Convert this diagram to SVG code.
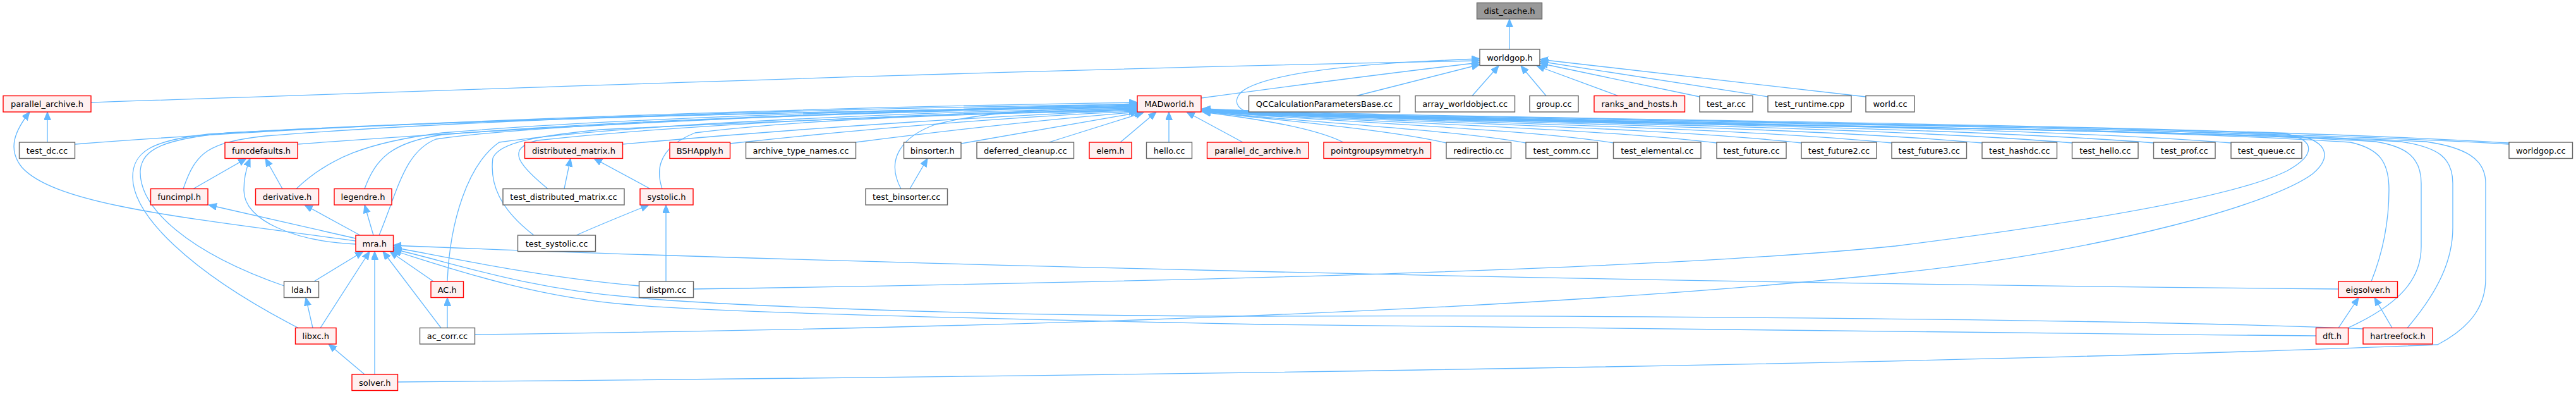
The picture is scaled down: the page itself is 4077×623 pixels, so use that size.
<svg xmlns="http://www.w3.org/2000/svg" width="4077" height="623" viewBox="0 0 4077 623">
<style>
rect{stroke-width:1.4}
.n rect{fill:#ffffff;stroke:#666666}
.r rect{fill:#fff0f0;stroke:#ff0000}
.root rect{fill:#999999;stroke:#666666}
text{font-family:"DejaVu Sans",sans-serif;font-size:13px;text-anchor:middle;fill:#000}
#edges path{fill:none;stroke:#63b8ff;stroke-width:1.3;marker-end:url(#a)}
</style>
<defs>
<marker id="a" markerUnits="userSpaceOnUse" markerWidth="14" markerHeight="12" refX="13" refY="5.5" orient="auto"><path d="M0,0 L13,5.5 L0,11 z" fill="#63b8ff" stroke="#63b8ff" stroke-width="1"/></marker>
</defs>
<rect width="4077" height="623" fill="#ffffff"/>
<g id="edges">
<path d="M2389,78 L2389,30"/>
<path d="M144,162 C800,140 1600,110 2342,96"/>
<path d="M1901,155 C2050,135 2200,115 2342,99"/>
<path d="M3971,228 C3700,210 2500,184 2000,181 C1955,179 1950,160 1965,145 C2010,110 2200,98 2342,93"/>
<path d="M2147,151.5 L2342,102"/>
<path d="M2330,151.5 L2372,104"/>
<path d="M2447,151.5 L2407,104"/>
<path d="M2561,151.5 L2432,104"/>
<path d="M2690,153 L2437,100"/>
<path d="M2798,153 L2437,97"/>
<path d="M2953,153 L2437,94"/>
<path d="M119,228 C600,190 1400,168 1800,162"/>
<path d="M471,228 C900,195 1500,172 1800,164"/>
<path d="M290,298.5 C310,240 330,225 420,215 C800,185 1400,170 1800,165"/>
<path d="M469,298.5 C520,250 580,225 700,210 C1000,185 1500,172 1800,166"/>
<path d="M577,298.5 C595,250 620,225 700,213 C1000,188 1500,173 1800,167"/>
<path d="M600,372 C630,300 640,240 690,220 C900,190 1500,175 1800,168"/>
<path d="M449.6,452 C300,400 220,330 222,270 C225,235 260,220 360,210 C800,185 1500,172 1800,169"/>
<path d="M472,518.5 C300,430 210,340 210,280 C210,240 240,222 330,212 C800,185 1500,172 1800,170"/>
<path d="M708,445 C712,350 740,260 790,225 C1000,195 1500,175 1800,171"/>
<path d="M867,298.5 C820,260 800,235 850,222 C1100,195 1500,178 1800,172"/>
<path d="M845,372 C790,330 775,290 780,250 C790,225 850,215 950,205 C1300,188 1600,178 1800,173"/>
<path d="M985,228 C1300,200 1600,182 1800,174"/>
<path d="M1048,298.5 C1035,260 1050,230 1100,210 C1300,185 1600,178 1800,175"/>
<path d="M1155,227 C1400,200 1650,182 1800,176"/>
<path d="M1354,225 C1550,200 1700,185 1803,177"/>
<path d="M1521,227 C1650,205 1750,188 1808,177"/>
<path d="M1426,298.5 C1400,250 1430,215 1480,197 C1560,175 1700,170 1800,170"/>
<path d="M1660,225 L1810,178"/>
<path d="M1773,225 L1830,177"/>
<path d="M1850,225 L1850,177"/>
<path d="M1967,225 L1878,177"/>
<path d="M2126,225 C2080,202 1990,188 1903,177"/>
<path d="M2289,226 C2200,205 2020,190 1903,176"/>
<path d="M2415,226 C2300,205 2050,192 1903,176"/>
<path d="M2554,226 C2400,202 2080,192 1903,175"/>
<path d="M2717,226 C2500,200 2100,192 1903,175"/>
<path d="M2851,226 C2600,198 2120,192 1903,174"/>
<path d="M2994,226 C2700,197 2150,192 1903,174"/>
<path d="M3137,226 C2800,196 2180,192 1903,174"/>
<path d="M3280,226 C2900,195 2200,192 1903,173"/>
<path d="M3409,226 C3000,194 2220,192 1903,173"/>
<path d="M3531,226 C3100,193 2250,192 1903,173"/>
<path d="M3971,226 C3400,192 2300,190 1903,172"/>
<path d="M1098,457 C1700,448 2600,430 3000,389 C3350,345 3550,305 3620,270 C3665,245 3665,222 3620,212 C3200,194 2300,192 1903,172"/>
<path d="M751,529 C1300,522 2300,505 3000,432 C3350,395 3600,320 3660,275 C3690,250 3685,225 3640,215 C3200,195 2300,193 1903,173"/>
<path d="M3753,445 C3775,390 3781,340 3781,300 C3781,255 3765,235 3720,225 C3300,197 2300,194 1903,174"/>
<path d="M3716,518.5 C3800,480 3832,440 3832,390 L3832,290 C3832,250 3810,232 3760,224 C3300,197 2300,195 1903,175"/>
<path d="M3810,518.5 C3860,460 3882,410 3882,360 L3882,290 C3882,250 3860,233 3800,224 C3300,197 2300,196 1903,176"/>
<path d="M630,604 C1500,597 3000,580 3858,545 C3915,515 3934,480 3934,440 L3934,290 C3934,250 3900,233 3840,224 C3300,198 2300,197 1903,177"/>
<path d="M563,381 C300,345 90,325 35,265 C10,235 25,205 47,177"/>
<path d="M75,225 L75,177"/>
<path d="M563,386 C470,382 385,350 386,300 C386,280 390,265 396,250.5"/>
<path d="M306,298.5 L390,250.5"/>
<path d="M447,298.5 L420,250.5"/>
<path d="M563,377 L330,324"/>
<path d="M570,372 L482,324"/>
<path d="M591,372 L577,324"/>
<path d="M497,445 L575,397.5"/>
<path d="M507,518.5 L585,397.5"/>
<path d="M495,518.5 L484,470.5"/>
<path d="M593,592 L593,397.5"/>
<path d="M577,592 L520,544"/>
<path d="M698,518.5 L606,397.5"/>
<path d="M686,445 L617,397.5"/>
<path d="M708,518.5 L708,470.5"/>
<path d="M3701,457 C2500,447 1200,412 622,388"/>
<path d="M1011,452 C850,438 700,405 622,391"/>
<path d="M3740,520 C3400,505 2500,498 2000,500 C1500,500 1100,480 1000,470 C820,455 700,410 622,394"/>
<path d="M3665,531 C3000,525 2300,518 2000,513 C1500,503 1100,492 1000,482 C840,470 700,420 622,396"/>
<path d="M912,372 C950,355 1000,335 1027,324"/>
<path d="M1054,445 L1054,324"/>
<path d="M1029,298.5 L940,250.5"/>
<path d="M893,298.5 L903,250.5"/>
<path d="M1440,298.5 L1468,250.5"/>
<path d="M3701,518.5 L3733,470.5"/>
<path d="M3786,518.5 L3758,470.5"/>
</g>
<g id="dist_cache" class="root"><rect x="2337.5" y="4.5" width="103" height="25.5"/><text x="2389" y="22">dist_cache.h</text></g>
<g id="worldgop_h" class="n"><rect x="2342" y="78" width="95" height="25.5"/><text x="2389.5" y="95.5">worldgop.h</text></g>
<g id="parallel_archive" class="r"><rect x="5" y="151.5" width="139" height="25.5"/><text x="74.5" y="169">parallel_archive.h</text></g>
<g id="MADworld" class="r"><rect x="1800" y="151.5" width="101" height="25.5"/><text x="1850.5" y="169">MADworld.h</text></g>
<g id="QCCalc" class="n"><rect x="1976.5" y="151.5" width="239" height="25.5"/><text x="2096" y="169">QCCalculationParametersBase.cc</text></g>
<g id="array_worldobject" class="n"><rect x="2240" y="151.5" width="157.5" height="25.5"/><text x="2318.75" y="169">array_worldobject.cc</text></g>
<g id="group" class="n"><rect x="2421" y="151.5" width="77" height="25.5"/><text x="2459.5" y="169">group.cc</text></g>
<g id="ranks_and_hosts" class="r"><rect x="2523" y="151.5" width="143.5" height="25.5"/><text x="2594.75" y="169">ranks_and_hosts.h</text></g>
<g id="test_ar" class="n"><rect x="2690" y="151.5" width="84" height="25.5"/><text x="2732" y="169">test_ar.cc</text></g>
<g id="test_runtime" class="n"><rect x="2798" y="151.5" width="132" height="25.5"/><text x="2864" y="169">test_runtime.cpp</text></g>
<g id="world_cc" class="n"><rect x="2953" y="151.5" width="77" height="25.5"/><text x="2991.5" y="169">world.cc</text></g>
<g id="test_dc" class="n"><rect x="30.5" y="225" width="88" height="25.5"/><text x="74.5" y="242.5">test_dc.cc</text></g>
<g id="funcdefaults" class="r"><rect x="356" y="225" width="115" height="25.5"/><text x="413.5" y="242.5">funcdefaults.h</text></g>
<g id="distributed_matrix" class="r"><rect x="830.5" y="225" width="155" height="25.5"/><text x="908" y="242.5">distributed_matrix.h</text></g>
<g id="BSHApply" class="r"><rect x="1060" y="225" width="95.5" height="25.5"/><text x="1107.75" y="242.5">BSHApply.h</text></g>
<g id="archive_type_names" class="n"><rect x="1180.5" y="225" width="174" height="25.5"/><text x="1267.5" y="242.5">archive_type_names.cc</text></g>
<g id="binsorter" class="n"><rect x="1430.5" y="225" width="90.5" height="25.5"/><text x="1475.75" y="242.5">binsorter.h</text></g>
<g id="deferred_cleanup" class="n"><rect x="1546" y="225" width="153.5" height="25.5"/><text x="1622.75" y="242.5">deferred_cleanup.cc</text></g>
<g id="elem" class="r"><rect x="1724" y="225" width="67" height="25.5"/><text x="1757.5" y="242.5">elem.h</text></g>
<g id="hello" class="n"><rect x="1814.5" y="225" width="72" height="25.5"/><text x="1850.5" y="242.5">hello.cc</text></g>
<g id="parallel_dc_archive" class="r"><rect x="1910.5" y="225" width="160.5" height="25.5"/><text x="1990.75" y="242.5">parallel_dc_archive.h</text></g>
<g id="pointgroupsymmetry" class="r"><rect x="2095" y="225" width="169.5" height="25.5"/><text x="2179.75" y="242.5">pointgroupsymmetry.h</text></g>
<g id="redirectio" class="n"><rect x="2289" y="225" width="102.5" height="25.5"/><text x="2340.25" y="242.5">redirectio.cc</text></g>
<g id="test_comm" class="n"><rect x="2415" y="225" width="113.5" height="25.5"/><text x="2471.75" y="242.5">test_comm.cc</text></g>
<g id="test_elemental" class="n"><rect x="2553.5" y="225" width="138.5" height="25.5"/><text x="2622.75" y="242.5">test_elemental.cc</text></g>
<g id="test_future" class="n"><rect x="2717" y="225" width="110" height="25.5"/><text x="2772" y="242.5">test_future.cc</text></g>
<g id="test_future2" class="n"><rect x="2851" y="225" width="119" height="25.5"/><text x="2910.5" y="242.5">test_future2.cc</text></g>
<g id="test_future3" class="n"><rect x="2994" y="225" width="118.5" height="25.5"/><text x="3053.25" y="242.5">test_future3.cc</text></g>
<g id="test_hashdc" class="n"><rect x="3137" y="225" width="118.5" height="25.5"/><text x="3196.25" y="242.5">test_hashdc.cc</text></g>
<g id="test_hello" class="n"><rect x="3279.5" y="225" width="104.5" height="25.5"/><text x="3331.75" y="242.5">test_hello.cc</text></g>
<g id="test_prof" class="n"><rect x="3408.5" y="225" width="97.5" height="25.5"/><text x="3457.25" y="242.5">test_prof.cc</text></g>
<g id="test_queue" class="n"><rect x="3531" y="225" width="112" height="25.5"/><text x="3587" y="242.5">test_queue.cc</text></g>
<g id="worldgop_cc" class="n"><rect x="3971" y="225" width="100.5" height="25.5"/><text x="4021.25" y="242.5">worldgop.cc</text></g>
<g id="funcimpl" class="r"><rect x="238.5" y="298.5" width="90.5" height="25.5"/><text x="283.75" y="316">funcimpl.h</text></g>
<g id="derivative" class="r"><rect x="404.5" y="298.5" width="100" height="25.5"/><text x="454.5" y="316">derivative.h</text></g>
<g id="legendre" class="r"><rect x="529" y="298.5" width="91" height="25.5"/><text x="574.5" y="316">legendre.h</text></g>
<g id="test_distributed_matrix" class="n"><rect x="796" y="298.5" width="192" height="25.5"/><text x="892" y="316">test_distributed_matrix.cc</text></g>
<g id="systolic" class="r"><rect x="1013" y="298.5" width="84" height="25.5"/><text x="1055" y="316">systolic.h</text></g>
<g id="test_binsorter" class="n"><rect x="1370" y="298.5" width="129.5" height="25.5"/><text x="1434.75" y="316">test_binsorter.cc</text></g>
<g id="mra" class="r"><rect x="563" y="372" width="59.5" height="25.5"/><text x="592.75" y="389.5">mra.h</text></g>
<g id="test_systolic" class="n"><rect x="819.5" y="372" width="123" height="25.5"/><text x="881" y="389.5">test_systolic.cc</text></g>
<g id="lda" class="n"><rect x="449.5" y="445" width="55" height="25.5"/><text x="477" y="462.5">lda.h</text></g>
<g id="AC" class="r"><rect x="682" y="445" width="51.5" height="25.5"/><text x="707.75" y="462.5">AC.h</text></g>
<g id="distpm" class="n"><rect x="1011.5" y="445" width="86" height="25.5"/><text x="1054.5" y="462.5">distpm.cc</text></g>
<g id="eigsolver" class="r"><rect x="3701" y="445" width="93.5" height="25.5"/><text x="3747.75" y="462.5">eigsolver.h</text></g>
<g id="libxc" class="r"><rect x="467.5" y="518.5" width="64.5" height="25.5"/><text x="499.75" y="536">libxc.h</text></g>
<g id="ac_corr" class="n"><rect x="664.5" y="518.5" width="87" height="25.5"/><text x="708" y="536">ac_corr.cc</text></g>
<g id="dft" class="r"><rect x="3665.5" y="518.5" width="51" height="25.5"/><text x="3691" y="536">dft.h</text></g>
<g id="hartreefock" class="r"><rect x="3740" y="518.5" width="110" height="25.5"/><text x="3795" y="536">hartreefock.h</text></g>
<g id="solver" class="r"><rect x="557" y="592" width="72.5" height="25.5"/><text x="593.25" y="609.5">solver.h</text></g>
</svg>
